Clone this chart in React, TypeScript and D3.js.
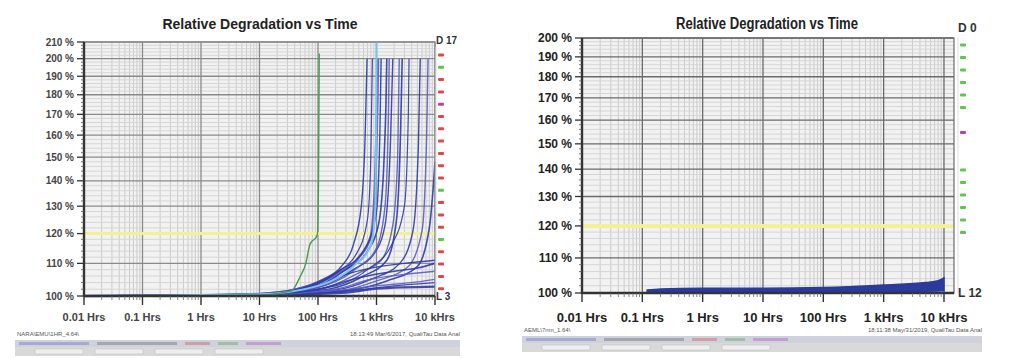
import * as d3 from "d3";
import { useEffect, useRef } from "react";

// shared axis labels
const xTickValues = [0.01, 0.1, 1, 10, 100, 1000, 10000];
const xTickLabels = ["0.01 Hrs", "0.1 Hrs", "1 Hrs", "10 Hrs", "100 Hrs", "1 kHrs", "10 kHrs"];
const leftYTicks = [100, 110, 120, 130, 140, 150, 160, 170, 180, 190, 200, 210];
const rightYTicks = [100, 110, 120, 130, 140, 150, 160, 170, 180, 190, 200];
const limitLevel = 120;

// left panel: [hours, percent]
const greenCurve = [
  [0.01, 100], [1, 100.1], [10, 100.3], [35, 101.5], [50, 106], [62, 110],
  [72, 116], [80, 117.5], [92, 118.5], [98, 120], [102, 140], [105, 203],
];
const cyanCurve = [
  [0.01, 100], [10, 100.5], [100, 103], [400, 109], [800, 116], [960, 130], [990, 170], [1000, 210],
];
const blueCurves = [
  [[0.01, 100], [1, 100.2], [10, 100.7], [40, 102], [120, 105], [250, 109], [400, 116], [550, 130], [640, 160], [690, 200]],
  [[0.01, 100], [1, 100.2], [10, 100.6], [60, 102.5], [200, 106.5], [500, 112], [800, 119], [950, 140], [1000, 160], [1030, 175], [1060, 200]],
  [[0.01, 100], [10, 100.5], [80, 102.5], [300, 108], [700, 114], [1100, 124], [1350, 150], [1450, 175], [1500, 200]],
  [[0.01, 100], [10, 100.5], [100, 102.5], [400, 108], [900, 113], [1400, 123], [1750, 160], [1900, 200]],
  [[0.01, 100], [10, 100.4], [120, 102.2], [500, 107], [1200, 111], [1900, 123], [2300, 150], [2450, 200]],
  [[0.01, 100], [10, 100.4], [150, 102], [600, 106], [1500, 111], [2200, 125], [2600, 165], [2750, 200]],
  [[0.01, 100], [10, 100.3], [200, 101.8], [800, 105], [2500, 110], [4200, 121], [5200, 155], [5600, 200]],
  [[0.01, 100], [10, 100.3], [250, 101.6], [1000, 104.5], [3500, 109], [6000, 121], [7200, 160], [7600, 200]],
  [[0.01, 100], [10, 100.3], [300, 101.6], [1500, 104.5], [5000, 109], [8000, 122], [9500, 140], [10000, 148]],
  [[0.01, 100], [10, 100.4], [100, 102], [500, 105.5], [2000, 107.5], [5000, 108.5], [10000, 110]],
  [[0.01, 100], [10, 100.3], [200, 101.5], [1000, 103], [5000, 104.2], [10000, 105]],
  [[0.01, 100], [10, 100.3], [300, 101.4], [2000, 103], [10000, 104]],
  [[0.01, 100], [10, 100.2], [300, 101], [1000, 102.2], [10000, 102.8]],
  [[0.01, 100], [10, 100.3], [200, 102], [800, 105], [3000, 106.5], [10000, 107.5]],
  [[0.01, 100], [10, 100.6], [50, 102.2], [200, 107], [450, 113], [700, 125], [800, 150], [850, 200]],
  [[0.01, 100], [10, 100.6], [70, 102.6], [250, 108], [600, 114], [1000, 128], [1150, 165], [1200, 200]],
  [[0.01, 100], [10, 100.5], [150, 103.5], [500, 109], [1000, 115], [1400, 130], [1600, 170], [1650, 200]],
  [[0.01, 100], [10, 100.4], [200, 103], [700, 108], [1800, 116], [3000, 130], [3500, 170], [3600, 200]],
  [[0.01, 100], [10, 100.5], [100, 103], [300, 106.5], [800, 108.5], [3000, 110], [10000, 111]],
];
const blueWidths = [1.4, 2.6, 1.6, 1.4, 1.4, 1.6, 1.4, 1.4, 1.6, 1.6, 1.4, 1.4, 2.2, 1.4, 1.2, 1.4, 1.4, 1.2, 1.4];
const leftMarkers = ["r", "g", "r", "r", "p", "r", "r", "r", "r", "r", "r", "g", "r", "r", "r", "g", "r", "r", "r", "r"];

// right panel band (12 overlapping devices)
const bandLow = [[0.12, 100], [1, 100.1], [100, 100.2], [1000, 100.3], [10000, 100.6]];
const bandHigh = [[0.12, 100.8], [0.2, 101.1], [1, 101.3], [10, 101.3], [100, 101.5], [1000, 102.2], [5000, 102.9], [8000, 103.4], [10000, 104.2]];
const rightMarkers = ["g", "g", "g", "g", "g", "g", "", "p", "", "", "g", "g", "g", "g", "g", "g"];

const markerColor: Record<string, string> = { r: "#e04848", g: "#5cc84a", p: "#c040a0" };
const font = "'Liberation Sans Narrow', 'Liberation Sans', Arial, sans-serif";

const drawPanel = (svg: any, o: any) => {
  const x = d3.scaleLog().domain(o.xDomain).range(o.xRange);
  const y = d3.scaleLog().domain(o.yDomain).range(o.yRange);
  const [x0, x1] = o.xRange;
  const [y1, y0] = o.yRange;
  const g = svg.append("g");

  g.append("rect").attr("x", x0).attr("y", y0).attr("width", x1 - x0).attr("height", y1 - y0).attr("fill", "#f2f2f2");

  // minor verticals
  const minorX: number[] = [];
  for (let e = -2; e <= 4; e++) for (let k = 2; k <= 9; k++) {
    const v = k * Math.pow(10, e);
    if (v < o.xDomain[1]) minorX.push(v);
  }
  g.selectAll(".mx").data(minorX).join("line")
    .attr("x1", (d: number) => x(d)).attr("x2", (d: number) => x(d))
    .attr("y1", y0).attr("y2", y1).attr("stroke", "#cbcbcb").attr("stroke-width", 1);
  const minorY = d3.range(o.yDomain[0] + 2, o.yDomain[1], 2).filter((v: number) => v % 10 !== 0);
  g.selectAll(".my").data(minorY).join("line")
    .attr("x1", x0).attr("x2", x1).attr("y1", (d: number) => y(d)).attr("y2", (d: number) => y(d))
    .attr("stroke", "#d6d6d6").attr("stroke-width", 1);

  // majors
  g.selectAll(".Mx").data(xTickValues).join("line")
    .attr("x1", (d: number) => x(d)).attr("x2", (d: number) => x(d))
    .attr("y1", y0).attr("y2", y1).attr("stroke", o.major).attr("stroke-width", 1.3);
  g.selectAll(".My").data(o.yTicks).join("line")
    .attr("x1", x0).attr("x2", x1).attr("y1", (d: number) => y(d)).attr("y2", (d: number) => y(d))
    .attr("stroke", o.major).attr("stroke-width", 1.3);

  // limit line
  g.append("line").attr("x1", x0).attr("x2", x1).attr("y1", y(limitLevel)).attr("y2", y(limitLevel))
    .attr("stroke", "#f4ef9a").attr("stroke-width", o.limitWidth);

  const line = d3.line().x((d: any) => x(d[0])).y((d: any) => y(Math.min(d[1], o.yDomain[1]))).curve(d3.curveMonotoneX);

  if (o.band) {
    const lowFn = d3.scaleLog().domain(o.bandLow.map((d: any) => d[0])).range(o.bandLow.map((d: any) => d[1]));
    const area = d3.area().x((d: any) => x(d[0])).y0((d: any) => y(lowFn(d[0]))).y1((d: any) => y(d[1])).curve(d3.curveMonotoneX);
    g.append("path").datum(o.bandHigh).attr("d", area).attr("fill", "#2b3a9c").attr("stroke", "#2b3a9c").attr("stroke-width", 1.5);
  }
  if (o.curves) {
    g.selectAll(".bc").data(o.curves).join("path")
      .attr("d", (d: any) => line(d)).attr("fill", "none")
      .attr("stroke", (_: any, i: number) => (i % 3 === 1 ? "#5a5cc0" : "#2e3aa6"))
      .attr("stroke-width", (_: any, i: number) => o.widths[i]).attr("stroke-opacity", 0.9);
    g.append("path").datum(o.cyan).attr("d", line).attr("fill", "none").attr("stroke", "#7cc4ec").attr("stroke-width", 2);
    g.append("path").datum(o.green).attr("d", line).attr("fill", "none").attr("stroke", "#4a9a52").attr("stroke-width", 1.4);
  }

  // frame
  g.append("rect").attr("x", x0).attr("y", y0).attr("width", x1 - x0).attr("height", y1 - y0)
    .attr("fill", "none").attr("stroke", o.major).attr("stroke-width", 1.2);
  g.append("line").attr("x1", x0).attr("x2", x0).attr("y1", y0).attr("y2", y1 + 1).attr("stroke", "#333").attr("stroke-width", 2.4);
  g.append("line").attr("x1", x0).attr("x2", x1).attr("y1", y1).attr("y2", y1).attr("stroke", "#333").attr("stroke-width", 2.4);

  // y axis ticks + labels
  g.selectAll(".yt").data(o.yTicks).join("line")
    .attr("x1", x0 - 7).attr("x2", x0).attr("y1", (d: number) => y(d)).attr("y2", (d: number) => y(d))
    .attr("stroke", "#333").attr("stroke-width", 1.3);
  g.selectAll(".ymt").data(minorY).join("line")
    .attr("x1", x0 - 3).attr("x2", x0).attr("y1", (d: number) => y(d)).attr("y2", (d: number) => y(d))
    .attr("stroke", "#555").attr("stroke-width", 0.8);
  g.selectAll(".yl").data(o.yTicks).join("text")
    .attr("x", x0 - 10).attr("y", (d: number) => y(d)).attr("dy", "0.35em")
    .attr("text-anchor", "end").attr("font-family", font).attr("font-weight", "bold")
    .attr("font-size", o.yFont).attr("fill", o.labelColor).text((d: number) => `${d} %`);

  // x axis ticks + labels
  g.selectAll(".xt").data(xTickValues).join("line")
    .attr("x1", (d: number) => x(d)).attr("x2", (d: number) => x(d)).attr("y1", y1).attr("y2", y1 + 9)
    .attr("stroke", "#333").attr("stroke-width", 1.4);
  g.selectAll(".xmt").data(minorX).join("line")
    .attr("x1", (d: number) => x(d)).attr("x2", (d: number) => x(d)).attr("y1", y1).attr("y2", y1 + 4)
    .attr("stroke", "#666").attr("stroke-width", 0.8);
  g.selectAll(".xl").data(xTickValues).join("text")
    .attr("x", (d: number) => x(d)).attr("y", o.xLabelY).attr("text-anchor", "middle")
    .attr("font-family", font).attr("font-weight", "bold").attr("font-size", o.xFont).attr("fill", o.labelColor)
    .text((_: number, i: number) => xTickLabels[i]);

  // title
  const title = g.append("text").attr("x", o.titleX).attr("y", 29).attr("text-anchor", "middle").attr("font-family", font)
    .attr("font-weight", "bold").attr("font-size", o.titleFont).attr("fill", "#222").text("Relative Degradation vs Time");
  if (o.titleWidth) title.attr("textLength", o.titleWidth).attr("lengthAdjust", "spacingAndGlyphs");

  // device markers column
  g.append("line").attr("x1", o.markX - 2).attr("x2", o.markX - 2).attr("y1", o.markTop - 8).attr("y2", y1)
    .attr("stroke", "#ddd").attr("stroke-width", 1);
  g.selectAll(".mk").data(o.markers).join("rect")
    .attr("x", o.markX).attr("y", (_: any, i: number) => o.markTop + i * o.markStep - 1.5)
    .attr("width", 6).attr("height", 3).attr("rx", 1)
    .attr("fill", (d: string) => (d ? markerColor[d] : "none"));
  g.append("text").attr("x", o.markX - 2).attr("y", o.dY).attr("font-family", font).attr("font-weight", "bold")
    .attr("font-size", o.dlFont).attr("fill", "#333").text(o.dLabel);
  g.append("text").attr("x", o.markX - 2).attr("y", y1 + 4).attr("font-family", font).attr("font-weight", "bold")
    .attr("font-size", o.dlFont).attr("fill", "#333").text(o.lLabel);

  // status / task bars of the screenshot
  g.append("text").attr("x", o.footX0 + 2).attr("y", o.footY).attr("font-family", font).attr("font-size", 6).attr("fill", "#555").text(o.file);
  g.append("text").attr("x", o.footX1).attr("y", o.footY).attr("text-anchor", "end").attr("font-family", font).attr("font-size", 6).attr("fill", "#555").text(o.stamp);
  g.append("rect").attr("x", o.footX0).attr("y", o.footY + 4).attr("width", o.footX1 - o.footX0).attr("height", 7).attr("fill", "#cfd2dc");
  g.append("rect").attr("x", o.footX0).attr("y", o.footY + 11).attr("width", o.footX1 - o.footX0).attr("height", 9).attr("fill", "#d9d9d9");
  const segs = [["#5a60c0", 70], ["#555", 80], ["#d04040", 25], ["#40a040", 20], ["#b040c0", 35]];
  let sx = o.footX0 + 4;
  segs.forEach(([c, w]: any) => {
    g.append("rect").attr("x", sx).attr("y", o.footY + 6).attr("width", w).attr("height", 3).attr("fill", c).attr("opacity", 0.35);
    sx += w + 8;
  });
  [0, 1, 2, 3].forEach((i) => {
    g.append("rect").attr("x", o.footX0 + 20 + i * 60).attr("y", o.footY + 13).attr("width", 48).attr("height", 5)
      .attr("fill", "#eeeeee").attr("stroke", "#bbb").attr("stroke-width", 0.5);
  });
};

const App = () => {
  const ref = useRef<SVGSVGElement>(null);
  useEffect(() => {
    const svg = d3.select(ref.current);
    svg.selectAll("*").remove();
    svg.append("rect").attr("width", 1024).attr("height", 358).attr("fill", "#ffffff");
    drawPanel(svg, {
      xDomain: [0.01, 10000], xRange: [84, 435], yDomain: [100, 210], yRange: [296, 42], yTicks: leftYTicks,
      major: "#8a8a8a", labelColor: "#444", yFont: 10, xFont: 11, xLabelY: 321, titleX: 260, titleFont: 14,
      limitWidth: 3, curves: blueCurves, widths: blueWidths, cyan: cyanCurve, green: greenCurve,
      markers: leftMarkers, markX: 438, markTop: 55, markStep: 12.3, dLabel: "D 17", lLabel: "L 3", dY: 44, dlFont: 10,
      footX0: 15, footX1: 460, footY: 336, file: "NARA\\EMU\\1HR_4.64\\", stamp: "18:13:49 Mar/6/2017, QualiTau Data Anal",
    });
    drawPanel(svg, {
      xDomain: [0.01, 14660], xRange: [582, 954], yDomain: [100, 200], yRange: [293, 38], yTicks: rightYTicks,
      major: "#6a6a6a", labelColor: "#222", yFont: 12, xFont: 13, xLabelY: 322, titleX: 767, titleFont: 16, titleWidth: 182,
      limitWidth: 4, band: true, bandLow, bandHigh,
      markers: rightMarkers, markX: 960, markTop: 45, markStep: 12.5, dLabel: "D 0", lLabel: "L 12", dY: 32, dlFont: 12,
      footX0: 522, footX1: 982, footY: 332, file: "AEML\\7nm_1.64\\", stamp: "18:11:38 May/31/2019, QualiTau Data Anal",
    });
  }, []);
  return <svg ref={ref} width={1024} height={358} style={{ position: "absolute", left: 0, top: 0 }} />;
};

export default App;
